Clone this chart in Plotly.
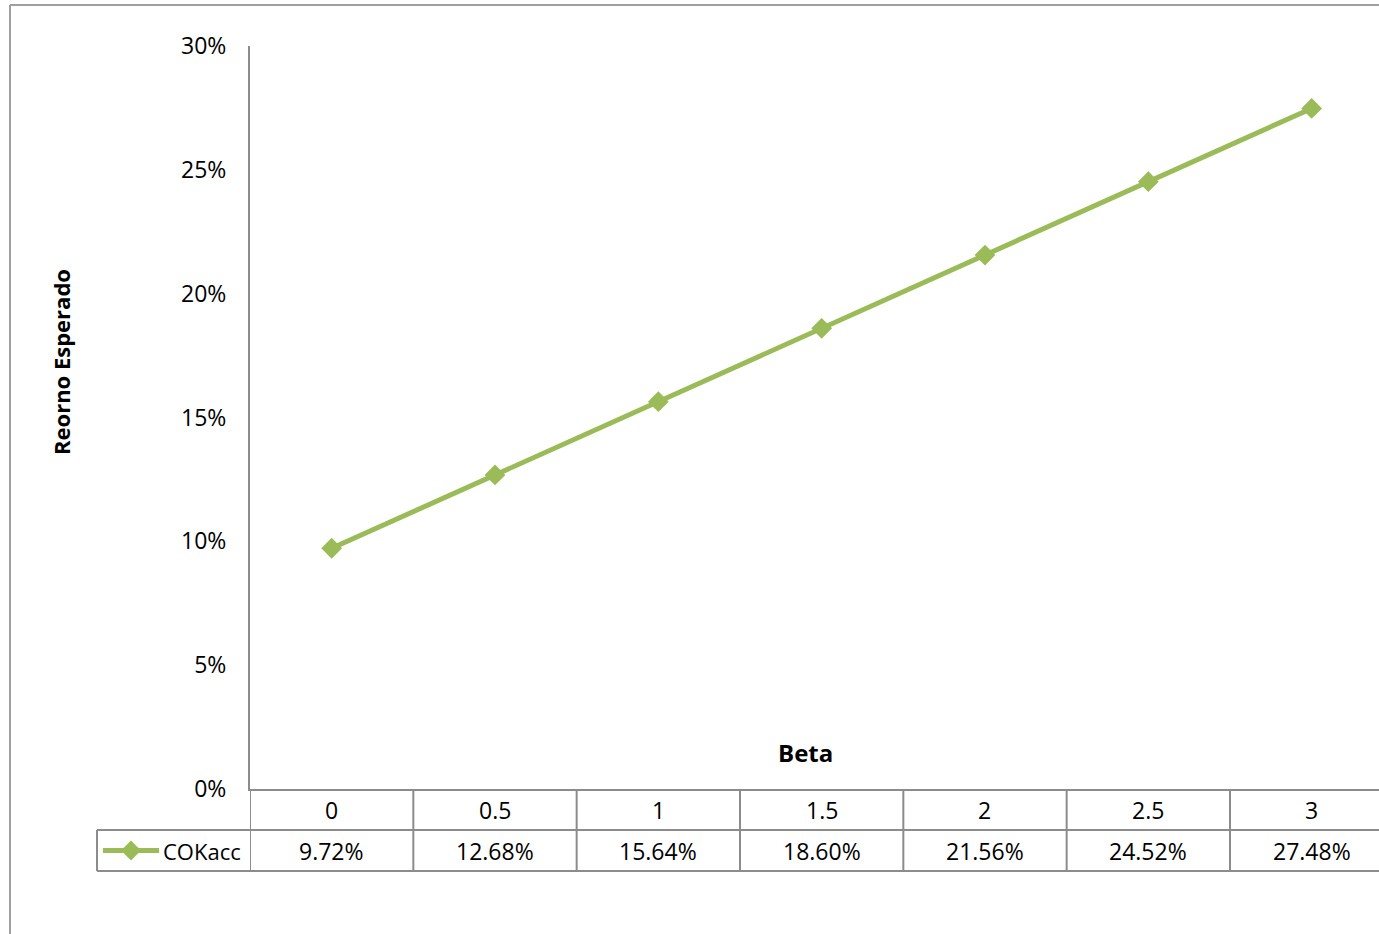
import plotly.graph_objects as go

# ---- data ----
betas = ["0", "0.5", "1", "1.5", "2", "2.5", "3"]
cokacc = [0.0972, 0.1268, 0.1564, 0.1860, 0.2156, 0.2452, 0.2748]
series_name = "COKacc"
y_ticks = [0, 0.05, 0.10, 0.15, 0.20, 0.25, 0.30]

W, H = 1379, 934
GREEN = "#9BBB59"
GRAY = "#8C8C8C"
FONT = "Open Sans"

def px_x(p):
    return p / W

def px_y(p):
    return 1 - p / H

xs = list(range(len(betas)))

fig = go.Figure()
fig.add_trace(go.Scatter(
    x=xs, y=cokacc, mode="lines+markers", name=series_name,
    line=dict(color=GREEN, width=5),
    marker=dict(symbol="diamond", size=16, color=GREEN),
    showlegend=False, cliponaxis=False,
))

shapes = []
annotations = []

# outer chart border (left & top)
shapes.append(dict(type="line", xref="paper", yref="paper",
                   x0=px_x(10), x1=px_x(10), y0=px_y(5), y1=0,
                   line=dict(color="#A0A0A0", width=2)))
shapes.append(dict(type="line", xref="paper", yref="paper",
                   x0=px_x(10), x1=1, y0=px_y(5), y1=px_y(5),
                   line=dict(color="#A0A0A0", width=2)))

row_top, row_mid, row_bot = 789, 830, 871
# table horizontal lines
shapes.append(dict(type="line", xref="paper", yref="paper",
                   x0=px_x(97), x1=1, y0=px_y(row_mid), y1=px_y(row_mid),
                   line=dict(color=GRAY, width=2)))
shapes.append(dict(type="line", xref="paper", yref="paper",
                   x0=px_x(97), x1=1, y0=px_y(row_bot), y1=px_y(row_bot),
                   line=dict(color=GRAY, width=2)))
shapes.append(dict(type="line", xref="paper", yref="paper",
                   x0=px_x(97), x1=px_x(97), y0=px_y(row_mid), y1=px_y(row_bot),
                   line=dict(color=GRAY, width=2)))
# table vertical lines at category boundaries
for i in range(len(betas) + 1):
    shapes.append(dict(type="line", xref="x", yref="paper",
                       x0=i - 0.5, x1=i - 0.5, y0=px_y(row_top), y1=px_y(row_bot),
                       line=dict(color=GRAY, width=2)))

# table text
for i, (b, v) in enumerate(zip(betas, cokacc)):
    annotations.append(dict(x=i, xref="x", y=px_y((row_top + row_mid) / 2), yref="paper",
                            text=b, showarrow=False, xanchor="center", yanchor="middle",
                            font=dict(family=FONT, size=23, color="black")))
    annotations.append(dict(x=i, xref="x", y=px_y((row_mid + row_bot) / 2), yref="paper",
                            text=f"{v*100:.2f}%", showarrow=False, xanchor="center", yanchor="middle",
                            font=dict(family=FONT, size=23, color="black")))

# legend key in table
ly = (row_mid + row_bot) / 2
shapes.append(dict(type="line", xref="paper", yref="paper",
                   x0=px_x(103), x1=px_x(159), y0=px_y(ly), y1=px_y(ly),
                   line=dict(color=GREEN, width=5)))
cx, r = 131, 10
shapes.append(dict(type="path", xref="paper", yref="paper",
                   path=f"M {px_x(cx-r)} {px_y(ly)} L {px_x(cx)} {px_y(ly-r)} L {px_x(cx+r)} {px_y(ly)} L {px_x(cx)} {px_y(ly+r)} Z",
                   fillcolor=GREEN, line=dict(color=GREEN, width=0)))
annotations.append(dict(x=px_x(161), xref="paper", y=px_y(ly), yref="paper",
                        text=series_name, showarrow=False, xanchor="left", yanchor="middle",
                        font=dict(family=FONT, size=22, color="black")))

# axis titles
annotations.append(dict(x=px_x(61), xref="paper", y=px_y(362), yref="paper",
                        text="<b>Reorno Esperado</b>", textangle=-90, showarrow=False,
                        xanchor="center", yanchor="middle",
                        font=dict(family=FONT, size=22, color="black")))
annotations.append(dict(x=px_x(805), xref="paper", y=px_y(752), yref="paper",
                        text="<b>Beta</b>", showarrow=False,
                        xanchor="center", yanchor="middle",
                        font=dict(family=FONT, size=24, color="black")))

x0_px = 250
step_px = 163.33
x_right = -0.5 + (W - x0_px) / step_px

fig.update_layout(
    width=W, height=H,
    margin=dict(l=0, r=0, t=0, b=0, pad=0, autoexpand=False),
    paper_bgcolor="white", plot_bgcolor="white",
    xaxis=dict(domain=[px_x(x0_px), 1], range=[-0.5, x_right],
               showticklabels=False, showgrid=False, zeroline=False,
               showline=True, linecolor=GRAY, linewidth=2, ticks="",
               automargin=False),
    yaxis=dict(domain=[px_y(789), px_y(46)], range=[0, 0.30],
               tickvals=y_ticks, tickformat=".0%",
               showgrid=False, zeroline=False,
               showline=True, linecolor=GRAY, linewidth=2, ticks="",
               ticklabelstandoff=17, automargin=False,
               tickfont=dict(family=FONT, size=23, color="black")),
    shapes=shapes, annotations=annotations,
)

fig.write_html("out.html")
